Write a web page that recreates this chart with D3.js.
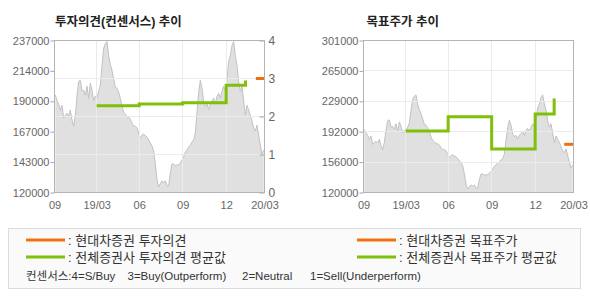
<!DOCTYPE html>
<html>
<head>
<meta charset="utf-8">
<script src="https://cdn.jsdelivr.net/npm/d3@7"></script>
<style>
    body { margin: 0; background: #fff; }
    svg { display: block; font-family: "Liberation Sans", "Noto Sans CJK KR", sans-serif; }
</style>
</head>
<body>
<svg id="chart" width="590" height="300"></svg>
<script>
// share price (same series drawn in both panels)
const prices = [
    195000, 191000, 188000, 183400, 187200, 177200, 179500, 181100, 178800, 183400,
    175700, 171100, 179500, 194100, 205600, 206400, 197900, 198700, 194900, 201800,
    192600, 204100, 198700, 191000, 194100, 192600, 197900, 202500, 217800, 230900,
    234700, 236200, 225500, 218600, 214000, 207900, 201000, 200200, 197200, 192600,
    186400, 181800, 180300, 178000, 178000, 176500, 173400, 171100, 171100, 169600,
    165700, 161900, 164200, 165000, 163400, 162700, 160400, 158100, 155800, 152000,
    142000, 129700, 124400, 126700, 129000, 127400, 129000, 125100, 125100, 135100,
    142000, 142000, 140500, 141200, 141200, 142800, 145100, 147400, 151200, 152700,
    155000, 156500, 158800, 160400, 165700, 181800, 197200, 206400, 200200, 189500,
    186400, 188000, 184100, 188000, 190300, 192600, 188000, 194100, 196400, 192600,
    197900, 201800, 198700, 206400, 220900, 225500, 233200, 236200, 225500, 217800,
    205600, 197900, 201800, 191000, 179500, 187200, 183400, 179500, 174900, 169600,
    167300, 171900, 164200, 156500, 148900, 152700
];

// x axis labels and where they fall along the price samples
const xTickPos = [0, 25.3, 50.8, 76.9, 103, 126];
const xTickLabels = ['09', '19/03', '06', '09', '12', '20/03'];

// left panel: investment opinion, 0-4 scale
const opinionTicks = [0, 1, 2, 3, 4];
const opinionAvgPos = [25.3, 50.8, 76.9, 103, 114.6];
const opinionAvg = [2.28, 2.33, 2.36, 2.82, 2.95];
const opinionHdPos = [120.8, 126];
const opinionHd = [3.0, 3.0];

// right panel: target price
const targetAvgPos = [25.3, 50.8, 76.9, 103, 114.4];
const targetAvg = [193100, 210100, 171800, 213600, 231900];
const targetHdPos = [120.4, 126];
const targetHd = [177400, 177400];

// price axis ticks of each panel
const leftPriceTicks = [120000, 143400, 166800, 190200, 213600, 237000];
const rightPriceTicks = [120000, 156200, 192400, 228600, 264800, 301000];

const titles = ['투자의견(컨센서스) 추이', '목표주가 추이'];
const legendLabels = ['현대차증권 투자의견', '전체증권사 투자의견 평균값', '현대차증권 목표주가', '전체증권사 목표주가 평균값'];
const consensusNotes = ['컨센서스:4=S/Buy', '3=Buy(Outperform)', '2=Neutral', '1=Sell(Underperform)'];

const ORANGE = '#f07010';
const GREEN = '#80bf0a';

const svg = d3.select('#chart');
const W = 210, H = 152;

// price samples are spread evenly across the plot
const x = d3.scaleLinear().domain([0, 126]).range([0, W]);

function drawPanel(left, priceTicks, gridScale, gridTicks) {
    const g = svg.append('g').attr('transform', `translate(${left},40.5)`);
    const y = d3.scaleLinear().domain([priceTicks[0], priceTicks[priceTicks.length - 1]]).range([H, 0]);

    // grey price area with a slightly darker edge
    g.append('path').datum(prices)
        .attr('d', d3.area().x((d, i) => x(i + 0.5)).y0(H).y1(d => y(d)))
        .attr('fill', '#e0e0e0');
    g.append('path').datum(prices)
        .attr('d', d3.line().x((d, i) => x(i + 0.5)).y(d => y(d)))
        .attr('fill', 'none').attr('stroke', '#c2c2c2').attr('stroke-width', 1);

    // grid lines on top of the area
    const gy = gridScale || y;
    g.selectAll('.hgrid').data(gridTicks.slice(1, -1)).join('line')
        .attr('x1', 0).attr('x2', W)
        .attr('y1', d => Math.round(gy(d))).attr('y2', d => Math.round(gy(d)))
        .attr('stroke', '#ebebeb');
    g.selectAll('.vgrid').data(xTickPos.slice(1, -1)).join('line')
        .attr('x1', d => Math.round(x(d))).attr('x2', d => Math.round(x(d)))
        .attr('y1', 0).attr('y2', H)
        .attr('stroke', '#ebebeb');

    // price axis on the left
    const ya = g.append('g')
        .call(d3.axisLeft(y).tickValues(priceTicks).tickSize(4).tickPadding(1)
            .tickFormat(d => Math.round(d / 1000) * 1000));
    styleAxis(ya);

    // time axis
    const xa = g.append('g').attr('transform', `translate(0,${H})`)
        .call(d3.axisBottom(x).tickValues(xTickPos).tickSize(0).tickPadding(9)
            .tickFormat((d, i) => xTickLabels[i]));
    styleAxis(xa);

    return { g, y };
}

function styleAxis(a) {
    a.select('.domain').remove();
    a.selectAll('line').attr('stroke', '#a8a8a8');
    a.selectAll('text').attr('fill', '#666').style('font-size', '11px');
}

function frame(g) {
    g.append('rect').attr('width', W).attr('height', H)
        .attr('fill', 'none').attr('stroke', '#b4b4b4');
}

function stepLine(g, xs, ys, y, color) {
    const pts = xs.map((p, i) => [p, ys[i]]);
    g.append('path').datum(pts)
        .attr('d', d3.line().curve(d3.curveStepAfter).x(d => x(d[0])).y(d => y(d[1])))
        .attr('fill', 'none').attr('stroke', color).attr('stroke-width', 3);
}

// left panel: opinion on a 0-4 axis drawn over the price
const yOp = d3.scaleLinear().domain([0, 4]).range([H, 0]);
const left = drawPanel(54.5, leftPriceTicks, yOp, opinionTicks);
const ra = left.g.append('g').attr('transform', `translate(${W},0)`)
    .call(d3.axisRight(yOp).tickValues(opinionTicks).tickSize(-5).tickPadding(4)
        .tickFormat(d3.format('d')));
styleAxis(ra);
ra.selectAll('text').style('font-size', '12px');
stepLine(left.g, opinionAvgPos, opinionAvg, yOp, GREEN);
stepLine(left.g, opinionHdPos, opinionHd, yOp, ORANGE);
frame(left.g);

// right panel: target price on the price axis
const right = drawPanel(363.5, rightPriceTicks, null, rightPriceTicks);
stepLine(right.g, targetAvgPos, targetAvg, right.y, GREEN);
stepLine(right.g, targetHdPos, targetHd, right.y, ORANGE);
frame(right.g);

// titles
svg.selectAll('.title').data(titles).join('text')
    .attr('x', (d, i) => i === 0 ? 55 : 366.5).attr('y', 26)
    .attr('fill', '#222').style('font-size', '12.5px').style('font-weight', 'bold')
    .text(d => d);

// legend box
const lg = svg.append('g');
lg.append('rect').attr('x', 8.5).attr('y', 228.5).attr('width', 572).attr('height', 60)
    .attr('fill', '#fafafa').attr('stroke', '#dcdcdc');

const legendPos = [[26, 240], [26, 257], [357, 240], [357, 257]];
const legendColors = [ORANGE, GREEN, ORANGE, GREEN];
legendLabels.forEach((label, i) => {
    const [lx, ly] = legendPos[i];
    lg.append('line').attr('x1', lx).attr('x2', lx + 39).attr('y1', ly).attr('y2', ly)
        .attr('stroke', legendColors[i]).attr('stroke-width', 3);
    lg.append('text').attr('x', lx + 42).attr('y', ly + 4.5)
        .attr('fill', '#333').style('font-size', '13px')
        .text(': ' + label);
});

const notePos = [26, 127.5, 242, 310];
lg.selectAll('.note').data(consensusNotes).join('text')
    .attr('x', (d, i) => notePos[i]).attr('y', 280)
    .attr('fill', '#333').style('font-size', '11.5px')
    .text(d => d);
</script>
</body>
</html>
